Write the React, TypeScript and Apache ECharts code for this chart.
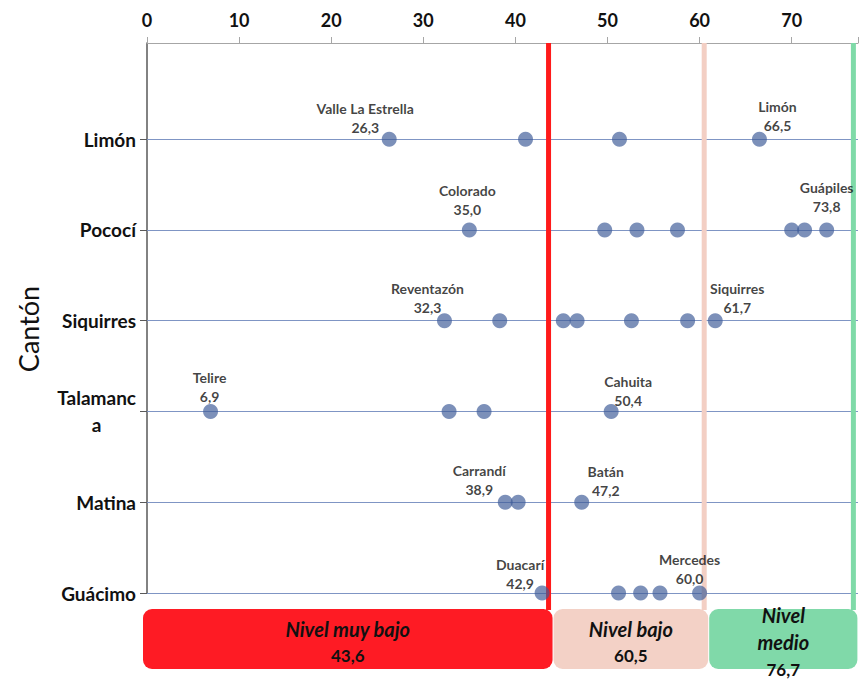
import React, { useEffect, useRef } from 'react';
import * as echarts from 'echarts';

// Cantons, bottom to top
const cantons = ['Guácimo', 'Matina', 'Talamanca', 'Siquirres', 'Pococí', 'Limón'];

// District values per canton (Índice, 0-100)
const limonValues = [26.3, 41.1, 51.3, 66.5];
const pocociValues = [35.0, 49.7, 53.2, 57.6, 70.0, 71.4, 73.8];
const siquirresValues = [32.3, 38.3, 45.2, 46.7, 52.6, 58.7, 61.7];
const talamancaValues = [6.9, 32.8, 36.6, 50.4];
const matinaValues = [38.9, 40.3, 47.2];
const guacimoValues = [42.9, 51.2, 53.6, 55.7, 60.0];

// Labelled districts (min and max of each canton)
const districtNames = ['Valle La Estrella', 'Limón', 'Colorado', 'Guápiles', 'Reventazón', 'Siquirres', 'Telire', 'Cahuita', 'Carrandí', 'Batán', 'Duacarí', 'Mercedes'];
const districtCantons = ['Limón', 'Limón', 'Pococí', 'Pococí', 'Siquirres', 'Siquirres', 'Talamanca', 'Talamanca', 'Matina', 'Matina', 'Guácimo', 'Guácimo'];
const districtValues = [26.3, 66.5, 35.0, 73.8, 32.3, 61.7, 6.9, 50.4, 38.9, 47.2, 42.9, 60.0];

// Level thresholds
const levelNames = ['Nivel muy bajo', 'Nivel bajo', 'Nivel\nmedio'];
const levelThresholds = [43.6, 60.5, 76.7];

const xTickValues = [0, 10, 20, 30, 40, 50, 60, 70];

// ---- layout / style (not data) ----
const labelOffsets: Record<string, [number, number]> = {
  'Valle La Estrella': [-24, -21],
  'Limón': [18, -23],
  'Colorado': [-2, -30],
  'Guápiles': [0, -33],
  'Reventazón': [-17, -23],
  'Siquirres': [22, -23],
  'Telire': [-1, -24],
  'Cahuita': [17, -20],
  'Carrandí': [-26, -22],
  'Batán': [24, -21],
  'Duacarí': [-22, -19],
  'Mercedes': [-10, -24],
};
const levelFill = ['#fe1b24', '#f3d1c6', '#80d9a9'];
const levelLine = ['#ff1a1a', '#f3cfc4', '#7fdaa8'];
const FONT = 'Lato';

const valuesByCanton: Record<string, number[]> = {
  'Guácimo': guacimoValues,
  'Matina': matinaValues,
  'Talamanca': talamancaValues,
  'Siquirres': siquirresValues,
  'Pococí': pocociValues,
  'Limón': limonValues,
};

const fmt = (v: number) => v.toFixed(1).replace('.', ',');

export default function App() {
  const ref = useRef<HTMLDivElement>(null);

  useEffect(() => {
    if (!ref.current) return;
    const chart = echarts.init(ref.current, null, { renderer: 'svg' });

    const data: any[] = [];
    cantons.forEach((c, i) => {
      valuesByCanton[c].forEach((v) => {
        const item: any = { value: [v, i + 1] };
        const di = districtNames.findIndex((n, k) => districtCantons[k] === c && districtValues[k] === v);
        if (di >= 0) {
          const name = districtNames[di];
          item.label = {
            show: true,
            position: 'inside',
            offset: labelOffsets[name] || [0, -24],
            formatter: `${name}\n${fmt(v)}`,
          };
        }
        data.push(item);
      });
    });

    const catTicks = cantons.map((_, i) => i + 1);

    chart.setOption({
      animation: false,
      grid: { left: 147, top: 43, right: 0, height: 550 },
      xAxis: {
        type: 'value',
        position: 'top',
        min: 0,
        max: 77.2,
        interval: 10,
        axisLine: { show: true, lineStyle: { color: '#a6a6a6', width: 1 } },
        axisTick: { show: true, length: 6, lineStyle: { color: '#a6a6a6' } },
        axisLabel: {
          margin: 14,
          fontFamily: FONT,
          fontWeight: 'bold',
          fontSize: 18,
          color: '#111',
          formatter: (v: number) => (xTickValues.includes(v) ? String(v) : ''),
        },
        splitLine: { show: false },
      },
      yAxis: {
        type: 'value',
        min: 1,
        max: 7.06,
        interval: 1,
        axisLine: { show: true, lineStyle: { color: '#595959', width: 1.5 } },
        axisTick: { show: true, length: 7, customValues: catTicks, lineStyle: { color: '#595959' } },
        axisLabel: {
          customValues: catTicks,
          margin: 11,
          fontFamily: FONT,
          fontWeight: 'bold',
          fontSize: 19,
          color: '#111',
          formatter: (v: number) => {
            const name = cantons[Math.round(v) - 1] || '';
            if (name === 'Talamanca') return '{t|Talamanc}\n{t|a}';
            return name;
          },
          rich: {
            t: { align: 'center', fontFamily: FONT, fontWeight: 'bold', fontSize: 19, color: '#111', lineHeight: 27 },
          },
        },
        splitLine: { show: false },
      },
      series: [
        {
          type: 'scatter',
          symbolSize: 15,
          z: 3,
          itemStyle: { color: 'rgba(62,91,152,0.85)' },
          label: {
            fontFamily: FONT,
            fontWeight: 'bold',
            fontSize: 14,
            lineHeight: 19,
            color: '#111',
          },
          data,
          markLine: {
            silent: true,
            symbol: 'none',
            z: 1,
            label: { show: false },
            lineStyle: { color: '#7f95c4', width: 1, type: 'solid' },
            data: catTicks.map((y) => ({ yAxis: y })),
          },
        },
      ],
    });

    // Threshold lines and level boxes, positioned through the chart's own scale
    const px = (x: number, y: number) => chart.convertToPixel({ gridIndex: 0 }, [x, y]) as number[];
    const topY = px(0, 7.06)[1];
    const boxTop = 609;
    const boxH = 60;
    const graphics: any[] = [];
    let prevRight = px(0, 1)[0] - 4;
    levelThresholds.forEach((t, k) => {
      const lx = px(t, 1)[0];
      const right = lx + 4;
      const left = k === 0 ? prevRight : prevRight + 1;
      graphics.push({
        type: 'rect',
        z: 5,
        shape: { x: left, y: boxTop, width: right - left, height: boxH, r: 9 },
        style: { fill: levelFill[k] },
      });
      const nameParts = levelNames[k].split('\n').map((p) => `{n|${p}}`).join('\n');
      graphics.push({
        type: 'text',
        z: 6,
        x: (left + right) / 2,
        y: boxTop + boxH / 2 + 3,
        style: {
          text: `${nameParts}\n{v|${fmt(t)}}`,
          align: 'center',
          verticalAlign: 'middle',
          fill: '#111',
          rich: {
            n: { fontFamily: FONT, fontWeight: 'bold', fontStyle: 'italic', fontSize: 20, lineHeight: 27, fill: '#111' },
            v: { fontFamily: FONT, fontWeight: 'bold', fontSize: 17, lineHeight: 27, fill: '#111' },
          },
        },
      });
      graphics.push({
        type: 'line',
        z: 2,
        shape: { x1: lx, y1: topY, x2: lx, y2: boxTop + 1 },
        style: { stroke: levelLine[k], lineWidth: 5 },
      });
      prevRight = right;
    });
    graphics.push({
      type: 'text',
      z: 6,
      x: 28,
      y: 329,
      rotation: Math.PI / 2,
      style: {
        text: 'Cantón',
        fontFamily: FONT,
        fontSize: 27,
        fill: '#111',
        align: 'center',
        verticalAlign: 'middle',
      },
    });
    chart.setOption({ graphic: graphics });

    return () => chart.dispose();
  }, []);

  return (
    <div
      ref={ref}
      style={{ position: 'absolute', left: 0, top: 0, width: 861, height: 679 }}
    />
  );
}
